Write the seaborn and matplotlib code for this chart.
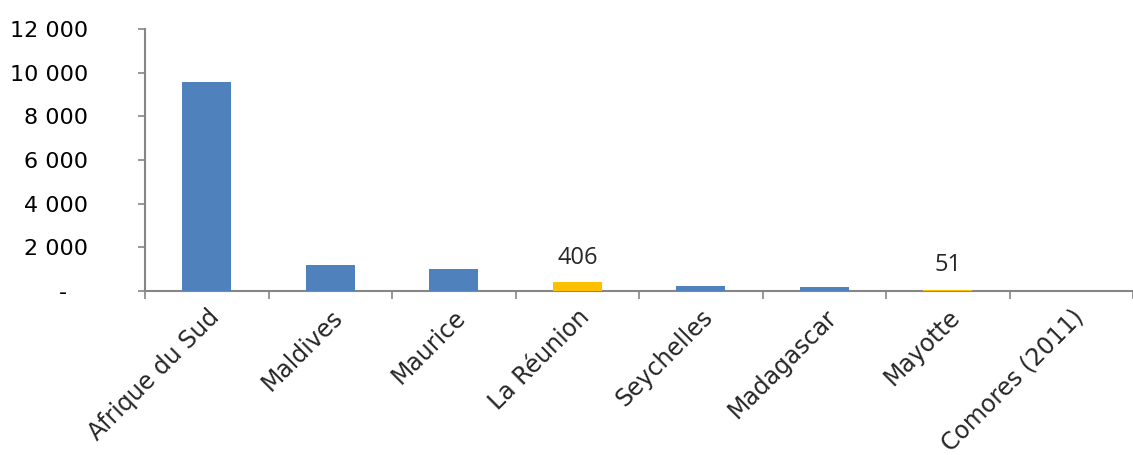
import matplotlib
matplotlib.use('Agg')
import matplotlib.pyplot as plt
import matplotlib.ticker as mticker
import seaborn as sns
import pandas as pd
import numpy as np

countries = ['Afrique du Sud', 'Maldives', 'Maurice', 'La Réunion',
             'Seychelles', 'Madagascar', 'Mayotte', 'Comores (2011)']
values = [9560, 1190, 1020, 406, 220, 190, 51, 10]
highlight = ['La Réunion', 'Mayotte']
yticks = [0, 2000, 4000, 6000, 8000, 10000, 12000]

blue = '#4F81BD'
yellow = '#FFC000'
grey = '#868686'

df = pd.DataFrame({'pays': countries, 'valeur': values})
palette = {c: (yellow if c in highlight else blue) for c in countries}

sns.set_style('white')
plt.rcParams['font.family'] = ['DejaVu Sans']

fig = plt.figure(figsize=(11.33, 4.55), dpi=100)
ax = fig.add_axes([145 / 1133, (455 - 291) / 455, (1133 - 145) / 1133, (291 - 29) / 455])

sns.barplot(data=df, x='pays', y='valeur', hue='pays', palette=palette,
            width=0.4, legend=False, ax=ax, saturation=1, edgecolor='none',
            zorder=3)

ax.set_ylim(0, 12000)
ax.set_xlim(-0.5, -0.5 + 988 / 125.5)
ax.set_yticks(yticks)
# format comptable : espace pour les milliers, tiret pour zéro
ax.yaxis.set_major_formatter(mticker.FuncFormatter(
    lambda v, p: '-\u00a0\u00a0\u00a0' if v == 0 else f'{int(v):,}'.replace(',', ' ')))
ax.set_xlabel('')
ax.set_ylabel('')

for s in ['top', 'right']:
    ax.spines[s].set_visible(False)
for s in ['left', 'bottom']:
    ax.spines[s].set_color(grey)
    ax.spines[s].set_linewidth(1.5)

ax.tick_params(axis='y', length=5, width=1.2, color=grey, labelsize=16,
               pad=36, labelcolor='black', left=True)
ax.set_xticks(np.arange(len(countries)))
ax.set_xticklabels(countries, rotation=45, ha='right', rotation_mode='anchor',
                   fontsize=17)
ax.tick_params(axis='x', which='major', length=0, pad=10)
ax.set_xticks(np.arange(-0.5, len(countries), 1), minor=True)
ax.tick_params(axis='x', which='minor', length=6, width=1.2, color=grey,
               bottom=True)

for c, v in zip(countries, values):
    if c in highlight:
        i = countries.index(c)
        ax.annotate(f'{v}', (i, v), xytext=(0, 9), textcoords='offset points',
                    ha='center', va='bottom', fontsize=17, family='Open Sans')

fig.savefig('out.png', dpi=100)
